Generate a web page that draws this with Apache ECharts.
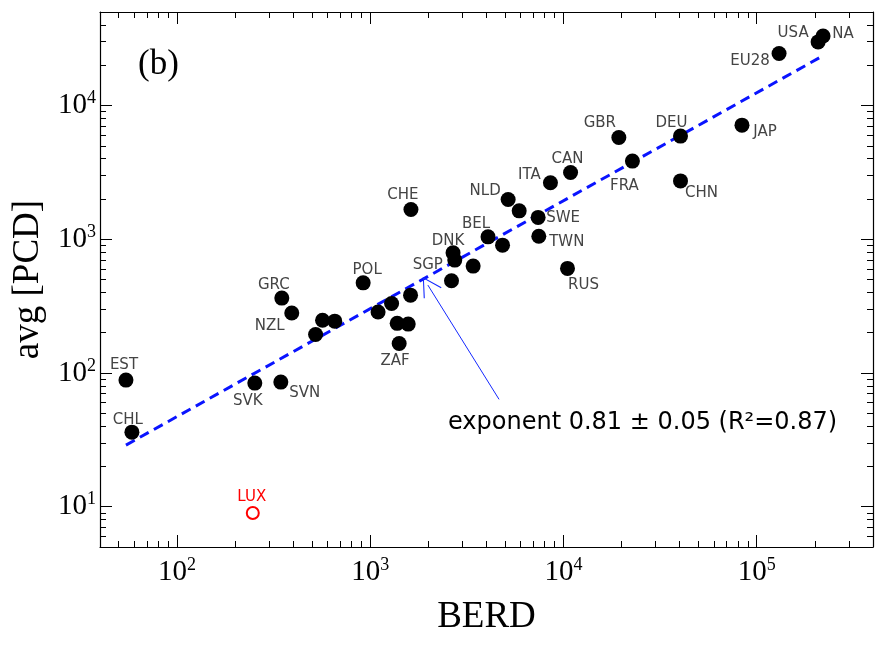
<!DOCTYPE html>
<html>
<head>
<meta charset="utf-8">
<script src="https://cdn.jsdelivr.net/npm/echarts@6/dist/echarts.min.js"></script>
<style>
  html, body { margin: 0; padding: 0; background: #fff; }
  #main { width: 886px; height: 648px; }
</style>
</head>
<body>
<div id="main"></div>
<script>
// country labels ('' = unlabelled dot)
var names = ['EST', 'CHL', 'SVK', 'SVN', 'GRC', 'NZL', '', '', '', 'POL',
  '', '', '', '', '', 'ZAF', 'CHE', 'DNK', 'SGP', '',
  '', 'BEL', '', 'NLD', '', 'SWE', 'TWN', 'RUS', 'ITA', 'CAN',
  'GBR', 'FRA', 'DEU', 'CHN', 'JAP', 'EU28', 'USA', 'NA'];
var berd = [54.5, 58.5, 253, 345, 349, 393, 567, 656, 522, 920,
  1099, 1291, 1618, 1380, 1574, 1413, 1626, 2685, 2741, 3412,
  2636, 4074, 4842, 5177, 5904, 7400, 7459, 10500, 8570, 10890,
  19360, 22760, 40360, 40360, 83950, 130600, 208000, 220600];
var pcd = [88.5, 36.1, 84, 85.5, 363, 281, 248, 244, 194, 472,
  286, 331, 382, 235, 232, 166, 1670, 791, 698, 630,
  489, 1042, 903, 1982, 1630, 1456, 1054, 605, 2642, 3155,
  5770, 3838, 5906, 2730, 7128, 24490, 29870, 33100];
// outlier
var luxBerd = [247];
var luxPcd = [8.97];
// fitted power law, end points
var fitBerd = [54.5, 215000];
var fitPcd = [28.9, 23070];
// arrow pointing at the fit line: tail, head
var arrowBerd = [4645, 1989];
var arrowPcd = [63.5, 454];

// label offsets (px) around each dot
var labelOffset = {
  EST: [-2, -15], CHL: [-4, -12], SVK: [-7, 18], SVN: [24, 11], GRC: [-8, -13],
  NZL: [-22, 13], POL: [4, -13], ZAF: [-4, 18], CHE: [-8, -14], DNK: [-5, -12],
  SGP: [-27, 5], BEL: [-12, -13], NLD: [-23, -8], SWE: [25, 1], TWN: [28, 6],
  RUS: [16, 17], ITA: [-21, -8], CAN: [-3, -13], GBR: [-19, -14], FRA: [-8, 25],
  DEU: [-9, -13], CHN: [21, 12], JAP: [23, 7], EU28: [-29, 8], USA: [-25, -9],
  NA: [20, -2]
};

var serif = 'Liberation Serif';
var sans = 'DejaVu Sans';

var chartDom = document.getElementById('main');
var myChart = echarts.init(chartDom);

function powLabel(v) {
  var e = Math.round(Math.log10(v));
  if (Math.abs(Math.pow(10, e) - v) / v > 1e-6) return '';
  return '{b|10}{s|' + e + '}';
}

var richLabel = {
  b: { fontFamily: serif, fontSize: 29, color: '#000', lineHeight: 32 },
  s: { fontFamily: serif, fontSize: 18, color: '#000', verticalAlign: 'top', lineHeight: 18 }
};

function logAxis(extra) {
  var base = {
    type: 'log',
    logBase: 10,
    axisLine: { show: true, onZero: false, lineStyle: { color: '#000', width: 1.2 } },
    axisTick: { show: true, inside: true, length: 12, lineStyle: { color: '#000', width: 1 } },
    minorTick: { show: true, splitNumber: 9, length: 6, lineStyle: { color: '#000', width: 1 } },
    splitLine: { show: false },
    minorSplitLine: { show: false }
  };
  return Object.assign(base, extra);
}

var mainData = berd.map(function (x, i) {
  var off = labelOffset[names[i]] || [0, 0];
  return {
    value: [x, pcd[i]],
    name: names[i],
    label: { offset: off }
  };
});

var arrowHead = 'path://M21,0 L42,37 L40,38 L21,4 L2,38 L0,37 Z';

var option = {
  animation: false,
  title: {
    text: '(b)',
    left: 138,
    top: 47,
    padding: 0,
    textStyle: { fontFamily: serif, fontSize: 35, fontWeight: 'normal', color: '#000' }
  },
  grid: { left: 100, right: 13, top: 12, bottom: 101, containLabel: false },
  xAxis: [
    logAxis({
      min: 40, max: 400000, position: 'bottom',
      name: 'BERD', nameLocation: 'middle', nameGap: 52,
      nameTextStyle: { fontFamily: serif, fontSize: 37, color: '#000' },
      axisLabel: {
        show: true, margin: 9, formatter: powLabel, rich: richLabel,
        showMinLabel: false, showMaxLabel: false
      }
    }),
    logAxis({
      min: 40, max: 400000, position: 'top',
      axisLabel: { show: false }
    })
  ],
  yAxis: [
    logAxis({
      min: 5, max: 50000, position: 'left',
      name: 'avg [PCD]', nameLocation: 'middle', nameGap: 52,
      nameTextStyle: { fontFamily: serif, fontSize: 37, color: '#000' },
      axisLabel: {
        show: true, margin: 4, formatter: powLabel, rich: richLabel,
        showMinLabel: false, showMaxLabel: false
      }
    }),
    logAxis({
      min: 5, max: 50000, position: 'right',
      axisLabel: { show: false }
    })
  ],
  graphic: [
    {
      type: 'text',
      left: 448,
      top: 411,
      style: {
        text: 'exponent 0.81 \u00b1 0.05 (R\u00b2=0.87)',
        font: '24px "DejaVu Sans"',
        fill: '#000'
      }
    }
  ],
  series: [
    {
      name: 'fit',
      type: 'line',
      xAxisIndex: 0,
      yAxisIndex: 0,
      data: fitBerd.map(function (x, i) { return [x, fitPcd[i]]; }),
      showSymbol: false,
      symbol: 'none',
      silent: true,
      z: 2,
      lineStyle: { color: '#0a14ff', width: 3, type: [10, 6], opacity: 1 },
      markLine: {
        silent: true,
        animation: false,
        symbol: ['none', arrowHead],
        symbolSize: [21, 19],
        label: { show: false },
        lineStyle: { color: '#1428ff', width: 1, type: 'solid', opacity: 1 },
        data: [
          [
            { coord: [arrowBerd[0], arrowPcd[0]] },
            { coord: [arrowBerd[1], arrowPcd[1]] }
          ]
        ]
      }
    },
    {
      name: 'countries',
      type: 'scatter',
      xAxisIndex: 0,
      yAxisIndex: 0,
      z: 3,
      symbol: 'circle',
      symbolSize: 15,
      itemStyle: { color: '#000', opacity: 1 },
      label: {
        show: true,
        position: 'inside',
        formatter: '{b}',
        fontFamily: sans,
        fontSize: 15,
        color: '#444'
      },
      emphasis: { disabled: true },
      data: mainData
    },
    {
      name: 'LUX',
      type: 'scatter',
      xAxisIndex: 0,
      yAxisIndex: 0,
      z: 3,
      symbol: 'circle',
      symbolSize: 12,
      itemStyle: { color: '#fff', borderColor: '#ff0000', borderWidth: 2, opacity: 1 },
      label: {
        show: true,
        position: 'inside',
        offset: [-1, -16],
        formatter: 'LUX',
        fontFamily: sans,
        fontSize: 15,
        color: '#ff0000'
      },
      emphasis: { disabled: true },
      data: luxBerd.map(function (x, i) { return [x, luxPcd[i]]; })
    }
  ]
};

option && myChart.setOption(option);
</script>
</body>
</html>
